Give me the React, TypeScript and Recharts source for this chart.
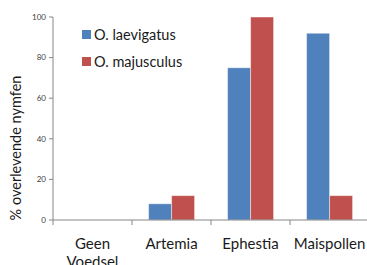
import { BarChart, Bar, XAxis, YAxis, Legend } from "recharts"

const categories = ["Geen Voedsel", "Artemia", "Ephestia", "Maispollen"]
const laevigatus = [0, 8, 75, 92]
const majusculus = [0, 12, 100, 12]
const yTicks = [0, 20, 40, 60, 80, 100]

const series = [
    { key: "laevigatus", name: "O. laevigatus", color: "#4F81BD" },
    { key: "majusculus", name: "O. majusculus", color: "#C0504D" },
]

const data = categories.map((c, i) => ({
    name: c,
    laevigatus: laevigatus[i],
    majusculus: majusculus[i],
}))

const FONT = "Lato, 'Open Sans', sans-serif"
const AXIS = "#868686"

// tick marks sit on the category boundaries, labels in the middle
const CategoryTick = (props: any) => {
    const { x, y, payload, index, visibleTicksCount } = props
    const half = payload.offset || 0
    const lines = String(payload.value).split(" ")
    const last = index === visibleTicksCount - 1
    return (
        <g>
            <line x1={x - half} x2={x - half} y1={y} y2={y + 5} stroke={AXIS} />
            {last && <line x1={x + half} x2={x + half} y1={y} y2={y + 5} stroke={AXIS} />}
            <text x={x} y={y} textAnchor="middle" fill="#1a1a1a" fontSize={15} fontFamily={FONT}>
                {lines.map((l, i) => (
                    <tspan key={i} x={x} dy={i === 0 ? 29 : 18}>{l}</tspan>
                ))}
            </text>
        </g>
    )
}

const renderLegend = (props: any) => {
    const { payload } = props
    return (
        <div style={{ fontFamily: FONT, fontSize: 14.5, color: "#1a1a1a" }}>
            {payload.map((p: any, i: number) => (
                <div key={i} style={{ display: "flex", alignItems: "center", height: 27 }}>
                    <span style={{ width: 9, height: 9, background: p.color, marginRight: 3 }} />
                    <span>{p.value}</span>
                </div>
            ))}
        </div>
    )
}

const YLabel = () => (
    <text x={21} y={148} transform="rotate(-90 21 148)" textAnchor="middle"
        fontSize={14.5} fontFamily={FONT} fill="#1a1a1a">
        % overlevende nymfen
    </text>
)

export default function App() {
    return (
        <div style={{ position: "absolute", left: 0, top: 0, width: 367, height: 265, background: "#fff", overflow: "hidden" }}>
            <BarChart width={367} height={265} data={data}
                margin={{ top: 17, right: -2, left: 0, bottom: 0 }}
                barGap={0} barCategoryGap="21%">
                <XAxis dataKey="name" height={45} interval={0}
                    axisLine={{ stroke: AXIS }} tickLine={false}
                    tickSize={0} tickMargin={0}
                    tick={<CategoryTick />} />
                <YAxis width={53} domain={[0, 100]} ticks={yTicks}
                    axisLine={{ stroke: AXIS }} tickLine={{ stroke: AXIS }}
                    tickSize={4} tickMargin={3}
                    tick={{ fontSize: 8, fill: "#404040", fontFamily: FONT }}
                    label={<YLabel />} />
                <Legend layout="vertical" verticalAlign="middle" align="center"
                    content={renderLegend}
                    wrapperStyle={{ left: 82, top: 21, width: 130 }} />
                {series.map(s => (
                    <Bar key={s.key} dataKey={s.key} name={s.name} fill={s.color}
                        stroke="rgba(255,255,255,0.45)" strokeWidth={1}
                        isAnimationActive={false} />
                ))}
            </BarChart>
        </div>
    )
}
